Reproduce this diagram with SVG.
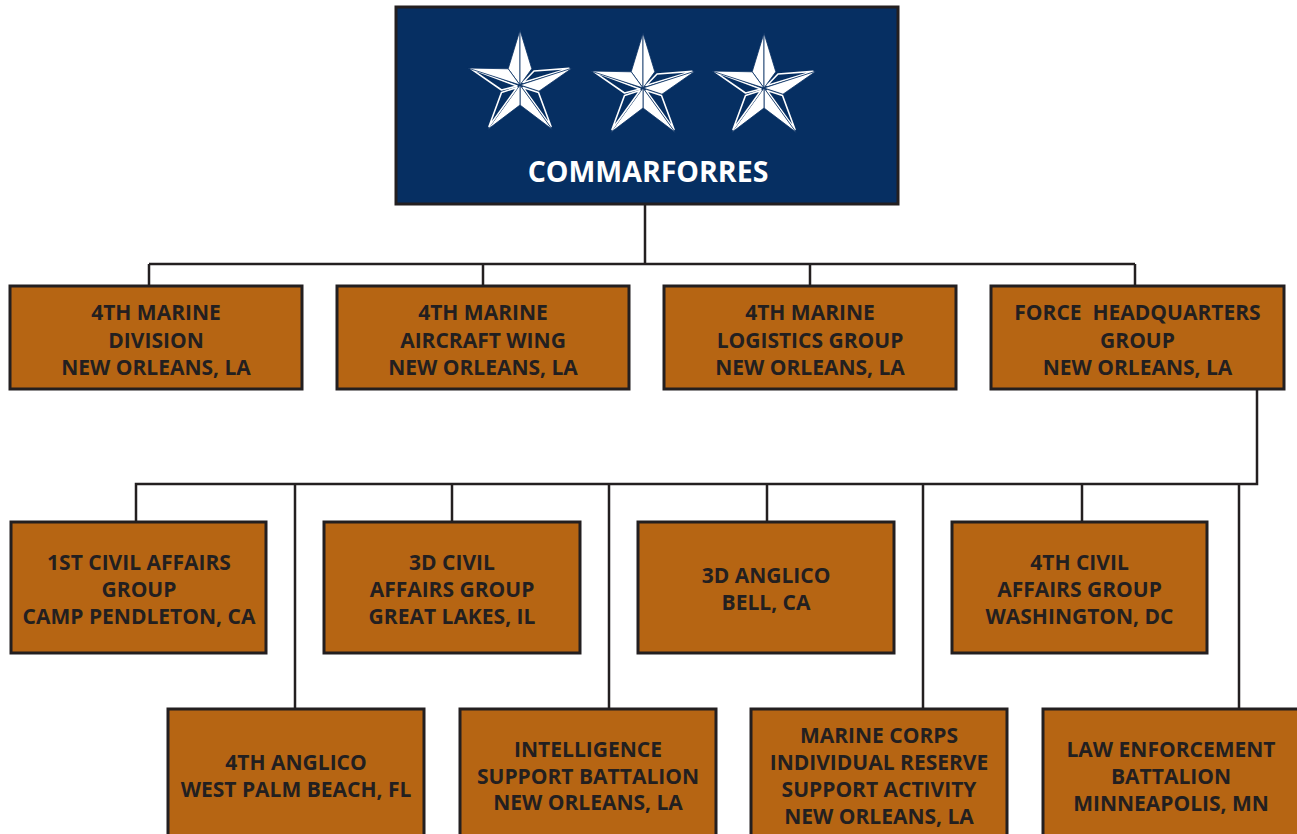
<svg xmlns="http://www.w3.org/2000/svg" xmlns:xlink="http://www.w3.org/1999/xlink" width="1297" height="834" viewBox="0 0 1297 834">
<style>
.box{fill:#b66513;stroke:#231f20;stroke-width:3}
.top{fill:#062f62;stroke:#231f20;stroke-width:3}
.lbl{font-family:"Open Sans","Liberation Sans",sans-serif;font-weight:700;font-size:21px;fill:#231f20;text-anchor:middle}
.title{font-family:"Open Sans","Liberation Sans",sans-serif;font-weight:700;font-size:28.5px;fill:#ffffff;text-anchor:middle}
.conn{fill:none;stroke:#231f20;stroke-width:2.5}
.lt{fill:#ffffff;stroke:#062f62;stroke-width:0.8;stroke-linejoin:round}
.dk{fill:#062f62;stroke:#ffffff;stroke-width:1.6;stroke-linejoin:round}
</style>
<defs>
<g id="star">
<polygon class="lt" points="0,0 0,-55 -11.8,-16.2"/>
<polygon class="lt" points="0,0 0,-55 11.8,-16.2"/>
<polygon class="dk" points="3,-2.5 49,-16.6 14,-14"/>
<polygon class="lt" points="0,0 52.3,-17 19,6.2"/>
<polygon class="dk" points="3,2.5 31,41.5 18.5,7.5"/>
<polygon class="lt" points="0,0 32.3,44.5 0,20"/>
<polygon class="lt" points="0,0 -32.3,44.5 0,20"/>
<polygon class="dk" points="-3,2.5 -31,41.5 -18.5,7.5"/>
<polygon class="dk" points="-3,1 -49,-16.2 -18.5,5"/>
<polygon class="lt" points="0,0 -52.3,-17 -11.8,-16.2"/>
</g>
</defs>

<g id="connectors">
<path class="conn" d="M645 204V264M149 264H1135M149 264V286M483 264V286M810 264V286M1135 264V286"/>
<path class="conn" d="M1257 389V484H136V522M295 484V709M452 484V522M609 484V709M767 484V522M923 484V709M1082 484V522M1239 484V709"/>
</g>

<g id="commarforres">
<rect class="top" x="396" y="7" width="502" height="197"/>
<use xlink:href="#star" transform="translate(520,85)"/>
<use xlink:href="#star" transform="translate(643,88)"/>
<use xlink:href="#star" transform="translate(764,88)"/>
<text class="title" x="648" y="182">COMMARFORRES</text>
</g>

<g id="mardiv">
<rect class="box" x="10" y="286" width="292" height="103"/>
<text class="lbl" x="156" y="320">4TH MARINE</text>
<text class="lbl" x="156" y="347.5">DIVISION</text>
<text class="lbl" x="156" y="375">NEW ORLEANS, LA</text>
</g>
<g id="maw">
<rect class="box" x="337" y="286" width="292" height="103"/>
<text class="lbl" x="483" y="320">4TH MARINE</text>
<text class="lbl" x="483" y="347.5">AIRCRAFT WING</text>
<text class="lbl" x="483" y="375">NEW ORLEANS, LA</text>
</g>
<g id="mlg">
<rect class="box" x="664" y="286" width="292" height="103"/>
<text class="lbl" x="810" y="320">4TH MARINE</text>
<text class="lbl" x="810" y="347.5">LOGISTICS GROUP</text>
<text class="lbl" x="810" y="375">NEW ORLEANS, LA</text>
</g>
<g id="fhg">
<rect class="box" x="991" y="286" width="293" height="103"/>
<text class="lbl" x="1137.5" y="320" xml:space="preserve">FORCE  HEADQUARTERS</text>
<text class="lbl" x="1137.5" y="347.5">GROUP</text>
<text class="lbl" x="1137.5" y="375">NEW ORLEANS, LA</text>
</g>

<g id="cag1">
<rect class="box" x="11" y="522" width="255" height="131"/>
<text class="lbl" x="139" y="570">1ST CIVIL AFFAIRS</text>
<text class="lbl" x="139" y="597">GROUP</text>
<text class="lbl" x="139" y="624">CAMP PENDLETON, CA</text>
</g>
<g id="cag3">
<rect class="box" x="324" y="522" width="256" height="131"/>
<text class="lbl" x="452" y="570">3D CIVIL</text>
<text class="lbl" x="452" y="597">AFFAIRS GROUP</text>
<text class="lbl" x="452" y="624">GREAT LAKES, IL</text>
</g>
<g id="anglico3">
<rect class="box" x="638" y="522" width="256" height="131"/>
<text class="lbl" x="766" y="583">3D ANGLICO</text>
<text class="lbl" x="766" y="610">BELL, CA</text>
</g>
<g id="cag4">
<rect class="box" x="952" y="522" width="255" height="131"/>
<text class="lbl" x="1079.5" y="570">4TH CIVIL</text>
<text class="lbl" x="1079.5" y="597">AFFAIRS GROUP</text>
<text class="lbl" x="1079.5" y="624">WASHINGTON, DC</text>
</g>

<g id="anglico4">
<rect class="box" x="168" y="709" width="256" height="140"/>
<text class="lbl" x="296" y="770">4TH ANGLICO</text>
<text class="lbl" x="296" y="797">WEST PALM BEACH, FL</text>
</g>
<g id="intel">
<rect class="box" x="460" y="709" width="256" height="140"/>
<text class="lbl" x="588" y="757">INTELLIGENCE</text>
<text class="lbl" x="588" y="783.5">SUPPORT BATTALION</text>
<text class="lbl" x="588" y="810">NEW ORLEANS, LA</text>
</g>
<g id="mcirsa">
<rect class="box" x="751" y="709" width="256" height="140"/>
<text class="lbl" x="879" y="743">MARINE CORPS</text>
<text class="lbl" x="879" y="770">INDIVIDUAL RESERVE</text>
<text class="lbl" x="879" y="797">SUPPORT ACTIVITY</text>
<text class="lbl" x="879" y="824">NEW ORLEANS, LA</text>
</g>
<g id="leb">
<rect class="box" x="1043" y="709" width="256" height="140"/>
<text class="lbl" x="1171" y="757">LAW ENFORCEMENT</text>
<text class="lbl" x="1171" y="784">BATTALION</text>
<text class="lbl" x="1171" y="811">MINNEAPOLIS, MN</text>
</g>
</svg>
